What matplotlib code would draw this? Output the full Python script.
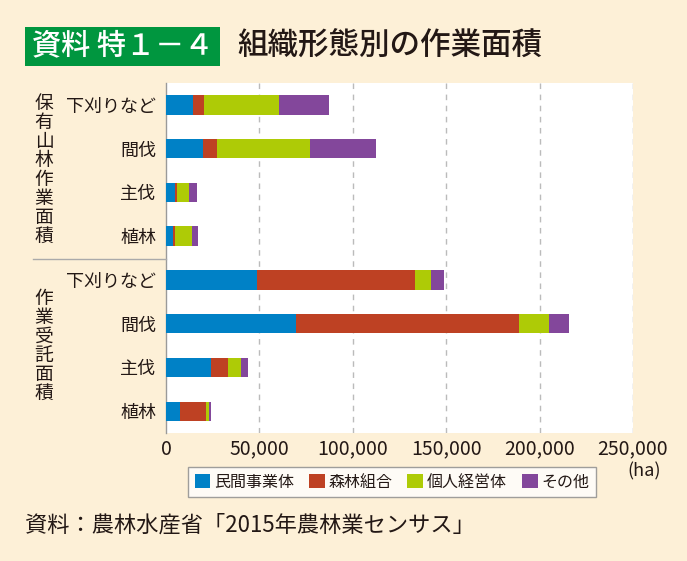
import numpy as np
import matplotlib
matplotlib.use("Agg")
import matplotlib.pyplot as plt
from matplotlib.patches import Patch, Rectangle
from matplotlib.lines import Line2D

plt.rcParams["font.family"] = ["Noto Sans CJK JP", "DejaVu Sans"]

BG = "#FDF0D7"
TEXT = "#231815"

# rows top to bottom (ha)
row_labels = ["下刈りなど", "間伐", "主伐", "植林",
              "下刈りなど", "間伐", "主伐", "植林"]
group_labels = ["保有山林作業面積", "作業受託面積"]

series_names = ["民間事業体", "森林組合", "個人経営体", "その他"]
minkan = [14600, 20000, 5000, 3900, 48800, 69700, 24200, 7600]
kumiai = [5800, 7100, 700, 900, 84700, 119400, 9000, 13700]
kojin = [40100, 50000, 6600, 9300, 8400, 16000, 7200, 1700]
sonota = [27000, 35400, 4300, 3000, 6800, 10600, 3500, 1200]
series_values = [minkan, kumiai, kojin, sonota]
colors = ["#0081C6", "#BE4123", "#AECB06", "#83479B"]

x_ticks = [0, 50000, 100000, 150000, 200000, 250000]
x_tick_labels = ["0", "50,000", "100,000", "150,000", "200,000", "250,000"]

W, H = 687, 561
fig = plt.figure(figsize=(W / 100, H / 100), dpi=100, facecolor=BG)


def fx(px):
    return px / W


def fy(py):
    return 1 - py / H


ax = fig.add_axes([fx(166), fy(433), fx(633) - fx(166), fy(83) - fy(433)])
ax.set_facecolor("white")

y = np.arange(len(row_labels))[::-1]
left = np.zeros(len(row_labels))
for name, vals, c in zip(series_names, series_values, colors):
    vals = np.array(vals, dtype=float)
    ax.barh(y, vals, left=left, height=0.44, color=c, label=name, zorder=3)
    left += vals

ax.set_xlim(0, 250000)
ax.set_ylim(-0.5, len(row_labels) - 0.5)
ax.set_yticks(y)
ax.set_yticklabels(row_labels, fontsize=13, color=TEXT)
ax.set_xticks(x_ticks)
ax.set_xticklabels(x_tick_labels, fontsize=14, color=TEXT)
ax.tick_params(axis="both", length=0)
ax.tick_params(axis="y", pad=7)
ax.tick_params(axis="x", pad=4)
for t in x_ticks[1:]:
    ax.axvline(t, color="#BBBBBB", linestyle=(0, (4, 4)), linewidth=1, zorder=1)
for s in ["top", "right", "bottom"]:
    ax.spines[s].set_visible(False)
ax.spines["left"].set_color("#9A9A9A")
ax.spines["left"].set_linewidth(1)

# group separator line
fig.add_artist(Line2D([fx(33), fx(166)], [fy(259), fy(259)],
                      color="#AAAAAA", linewidth=1))

# vertical group labels (one character per line)
centers = [170, 346]
for label, yc in zip(group_labels, centers):
    fig.text(fx(44), fy(yc), "\n".join(label), fontsize=13.5, color=TEXT,
             ha="center", va="center", multialignment="center",
             linespacing=0.87)

# title
fig.add_artist(Rectangle((fx(25), fy(66)), fx(220) - fx(25), fy(27) - fy(66),
                         facecolor="#00963F", edgecolor="none"))
fig.text(fx(32), fy(46), "資料 特１－４", fontsize=21, color="white",
         ha="left", va="center", fontweight="medium")
fig.text(fx(237), fy(46), "組織形態別の作業面積", fontsize=22, color=TEXT,
         ha="left", va="center", fontweight="medium")

# legend
handles = [Patch(facecolor=c, edgecolor="none", label=n)
           for n, c in zip(series_names, colors)]
leg = fig.legend(handles=handles, loc="center", ncol=4,
                 bbox_to_anchor=(fx(392), fy(482)), frameon=True,
                 fontsize=11.5, handlelength=1.0, handleheight=1.0,
                 handletextpad=0.25, columnspacing=0.9, borderpad=0.4,
                 fancybox=False)
leg.get_frame().set_edgecolor("#888888")
leg.get_frame().set_linewidth(1)
leg.get_frame().set_facecolor("white")
for t in leg.get_texts():
    t.set_color(TEXT)

fig.text(fx(661), fy(471), "(ha)", fontsize=13, color=TEXT,
         ha="right", va="center")

fig.text(fx(25), fy(525), "資料：農林水産省「2015年農林業センサス」",
         fontsize=16, color=TEXT, ha="left", va="center")

fig.savefig("out.png", dpi=100, facecolor=BG)
